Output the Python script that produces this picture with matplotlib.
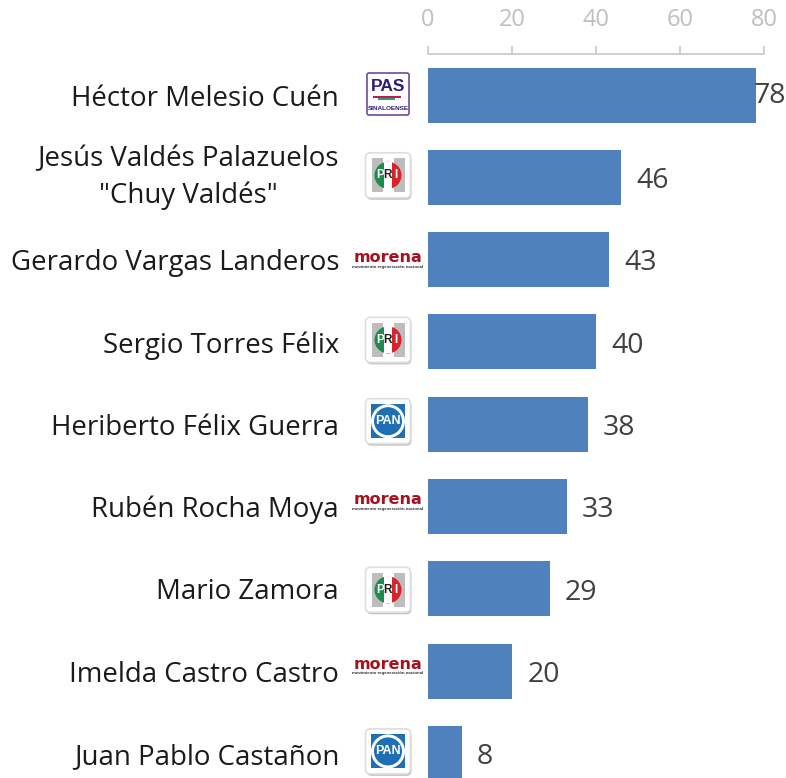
import matplotlib
matplotlib.use('Agg')
import matplotlib.pyplot as plt
from matplotlib.patches import Circle, FancyBboxPatch, Rectangle, Wedge

names = ['Héctor Melesio Cuén', 'Jesús Valdés Palazuelos\n"Chuy Valdés"', 'Gerardo Vargas Landeros',
         'Sergio Torres Félix', 'Heriberto Félix Guerra', 'Rubén Rocha Moya', 'Mario Zamora',
         'Imelda Castro Castro', 'Juan Pablo Castañon']
values = [78, 46, 43, 40, 38, 33, 29, 20, 8]
parties = ['PAS', 'PRI', 'morena', 'PRI', 'PAN', 'morena', 'PRI', 'morena', 'PAN']
logo_shift = [-1, -2, 0, -2, -3, -5, 1, -5, -2]
x_ticks = [0, 20, 40, 60, 80]

plt.rcParams['font.family'] = ['Open Sans', 'DejaVu Sans']

W, H = 786, 778
fig = plt.figure(figsize=(W / 100, H / 100), dpi=100)
top, left, right = 54, 428, 764
ax = fig.add_axes([left / W, 0, (right - left) / W, (H - top) / H])
step = 82.3
ax.barh(range(len(values)), values, height=55 / step, color='#4f81bd', edgecolor='none')
ax.set_xlim(0, 80)
ax.set_ylim((H - 95) / step, (top - 95) / step)

ax.xaxis.tick_top()
ax.set_xticks(x_ticks)
ax.tick_params(axis='x', length=6, width=1.2, color='#c8c8c8', labelcolor='#bfbfbf', labelsize=17, pad=10)
ax.set_yticks(range(len(names)))
ax.set_yticklabels(names, fontsize=19.9, color='#1a1a1a', multialignment='center', linespacing=1.38)
ax.tick_params(axis='y', length=0, pad=64)
ax.get_yticklabels()[1].set_va('center')
for s in ['left', 'right', 'bottom']:
    ax.spines[s].set_visible(False)
ax.spines['top'].set_color('#c8c8c8')
ax.spines['top'].set_linewidth(1.2)

for i, v in enumerate(values):
    off = -1.6 if v == max(values) else 11
    dy = -1 if v == max(values) else -2.8
    ax.annotate(str(v), (v, i), xytext=(off, dy), textcoords='offset points', va='center',
                ha='left', fontsize=20.5, color='#404040', annotation_clip=False)

# logos go on a pixel overlay
ov = fig.add_axes([0, 0, 1, 1], zorder=5)
ov.set_xlim(0, W)
ov.set_ylim(H, 0)
ov.axis('off')
logo_font = 'Liberation Sans'


def box(cx, cy, size):
    ov.add_patch(FancyBboxPatch((cx - size / 2 + 1, cy - size / 2 + 2), size, size, boxstyle='round,pad=0,rounding_size=5',
                                fc='#c4c4c4', ec='none'))
    ov.add_patch(FancyBboxPatch((cx - size / 2, cy - size / 2), size, size, boxstyle='round,pad=0,rounding_size=5',
                                fc='white', ec='#dedede', lw=1.2))


def draw_pas(cx, cy):
    ov.add_patch(FancyBboxPatch((cx - 21, cy - 21), 42, 42, boxstyle='round,pad=0,rounding_size=2',
                                fc='white', ec='#6b4a9e', lw=1.2))
    ov.text(cx, cy - 8, 'PAS', ha='center', va='center', fontsize=12.5, fontweight='bold', color='#2e1a7a',
            family=logo_font)
    ov.add_patch(Rectangle((cx - 15, cy + 2), 28, 2, fc='#c2185b', ec='none'))
    ov.add_patch(Rectangle((cx - 10, cy + 4), 17, 2, fc='#2e9e6b', ec='none'))
    ov.text(cx, cy + 14, 'SINALOENSE', ha='center', va='center', fontsize=4.6, fontweight='bold', color='#2e1a7a',
            family=logo_font)


def draw_pri(cx, cy):
    box(cx, cy, 45)
    ov.add_patch(Rectangle((cx - 16.5, cy - 17), 33, 34, fc='#bdbdbd', ec='none'))
    ov.add_patch(Rectangle((cx - 5.5, cy - 17), 11, 34, fc='white', ec='none'))
    ov.add_patch(Wedge((cx, cy), 13.5, 90, 270, fc='#1e8a4c', ec='none'))
    ov.add_patch(Wedge((cx, cy), 13.5, -90, 90, fc='#d8232a', ec='none'))
    ov.add_patch(Rectangle((cx - 4, cy - 13.5), 8, 27, fc='white', ec='none'))
    for dx, ch, col in [(-8, 'P', 'white'), (0, 'R', '#222222'), (8, 'I', 'white')]:
        ov.text(cx + dx, cy, ch, ha='center', va='center', fontsize=8.5, fontweight='bold', color=col, family=logo_font)


def draw_pan(cx, cy):
    box(cx, cy, 45)
    ov.add_patch(Rectangle((cx - 17, cy - 17), 34, 34, fc='#1f6fb5', ec='none'))
    ov.add_patch(Circle((cx, cy), 17, fc='white', ec='none'))
    ov.add_patch(Circle((cx, cy), 14, fc='#1f6fb5', ec='none'))
    ov.text(cx, cy, 'PAN', ha='center', va='center', fontsize=9, fontweight='bold', color='white', family=logo_font)


def draw_morena(cx, cy):
    ov.text(cx, cy - 2, 'morena', ha='center', va='center', fontsize=11.5, fontweight='bold', color='#a5121e',
            family='DejaVu Sans')
    ov.text(cx, cy + 7, 'movimiento regeneración nacional', ha='center', va='center', fontsize=3.2,
            fontweight='bold', color='#333333', family=logo_font)


logo_funcs = {'PAS': draw_pas, 'PRI': draw_pri, 'PAN': draw_pan, 'morena': draw_morena}
for i, p in enumerate(parties):
    cy = H - ax.transData.transform((0, i))[1] + logo_shift[i]
    logo_funcs[p](388, cy)

fig.savefig('out.png', dpi=100)
